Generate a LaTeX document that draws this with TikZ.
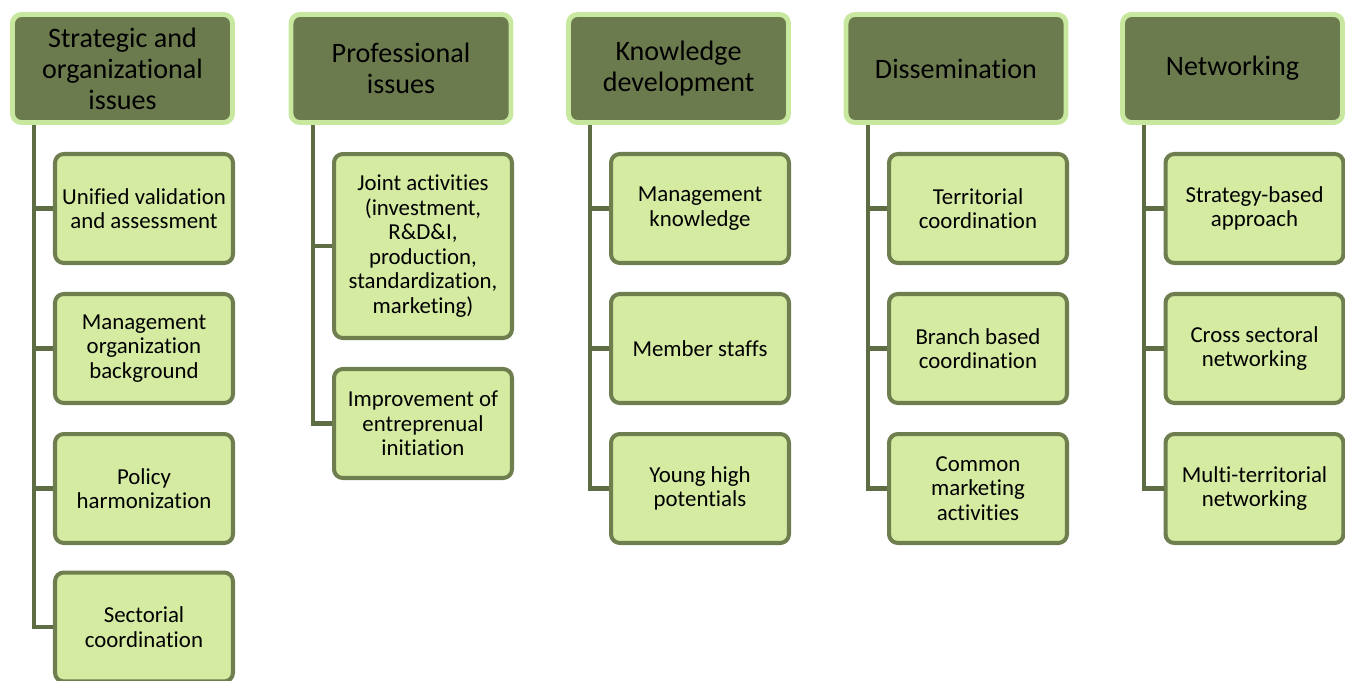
\documentclass[tikz,border=0pt]{standalone}
\usepackage{fontspec}
\setmainfont{Carlito}[Ligatures=NoCommon]
\usetikzlibrary{positioning}

\definecolor{headfill}{HTML}{6C7B4E}
\definecolor{headline}{HTML}{C8E8A0}
\definecolor{itemfill}{HTML}{D5EBA2}
\definecolor{itemline}{HTML}{6E7E4F}
\definecolor{trunkcol}{HTML}{5F6D45}

\tikzset{
  head/.style={draw=headline, fill=headfill, line width=2.8pt, rounded corners=5pt,
    minimum width=4.4cm, minimum height=2.16cm, inner sep=1pt, align=center,
    font=\fontsize{16}{17.6}\selectfont},
  item/.style={draw=itemline, fill=itemfill, line width=2.3pt, rounded corners=5pt,
    minimum width=3.56cm, minimum height=2.18cm, inner sep=1pt, align=center,
    font=\fontsize{13}{14}\selectfont},
  trunk/.style={draw=trunkcol, line width=2.3pt}
}

\begin{document}
\begin{tikzpicture}[x=0.02cm, y=-0.02cm]
\useasboundingbox (0,0) rectangle (1345,680);

% top row
\node[head] (h1) at (122.5,68.5) {Strategic and\\organizational\\issues};
\node[head] (h2) at (401,68.5) {Professional\\issues};
\node[head] (h3) at (678.5,68.5) {Knowledge\\development};
\node[head] (h4) at (956,68.5) {Dissemination};
\node[head] (h5) at (1232.5,68.5) {Networking};

% column 1
\node[item] (a1) at (144,208.5) {Unified validation\\and assessment};
\node[item] (a2) at (144,348.5) {Management\\organization\\background};
\node[item] (a3) at (144,488.5) {Policy\\harmonization};
\node[item] (a4) at (144,627) {Sectorial\\coordination};

% column 2
\node[item, minimum height=3.68cm] (b1) at (423,246) {Joint activities\\(investment,\\R\&D\&I,\\production,\\standardization,\\marketing)};
\node[item] (b2) at (423,423.5) {Improvement of\\entreprenual\\initiation};

% column 3
\node[item] (c1) at (700,208.5) {Management\\knowledge};
\node[item] (c2) at (700,348.5) {Member staffs};
\node[item] (c3) at (700,488.5) {Young high\\potentials};

% column 4
\node[item] (d1) at (978,208.5) {Territorial\\coordination};
\node[item] (d2) at (978,348.5) {Branch based\\coordination};
\node[item] (d3) at (978,488.5) {Common\\marketing\\activities};

% column 5
\node[item] (e1) at (1254.5,208.5) {Strategy-based\\approach};
\node[item] (e2) at (1254.5,348.5) {Cross sectoral\\networking};
\node[item] (e3) at (1254.5,488.5) {Multi-territorial\\networking};

% connectors
\coordinate (t1) at ([xshift=0.48cm]h1.south west);
\coordinate (t2) at ([xshift=0.48cm]h2.south west);
\coordinate (t3) at ([xshift=0.48cm]h3.south west);
\coordinate (t4) at ([xshift=0.48cm]h4.south west);
\coordinate (t5) at ([xshift=0.48cm]h5.south west);

\draw[trunk] (t1) |- (a1.west);
\draw[trunk] (t1) |- (a2.west);
\draw[trunk] (t1) |- (a3.west);
\draw[trunk] (t1) |- (a4.west);
\draw[trunk] (t2) |- (b1.west);
\draw[trunk] (t2) |- (b2.west);
\draw[trunk] (t3) |- (c1.west);
\draw[trunk] (t3) |- (c2.west);
\draw[trunk] (t3) |- (c3.west);
\draw[trunk] (t4) |- (d1.west);
\draw[trunk] (t4) |- (d2.west);
\draw[trunk] (t4) |- (d3.west);
\draw[trunk] (t5) |- (e1.west);
\draw[trunk] (t5) |- (e2.west);
\draw[trunk] (t5) |- (e3.west);
\end{tikzpicture}
\end{document}
